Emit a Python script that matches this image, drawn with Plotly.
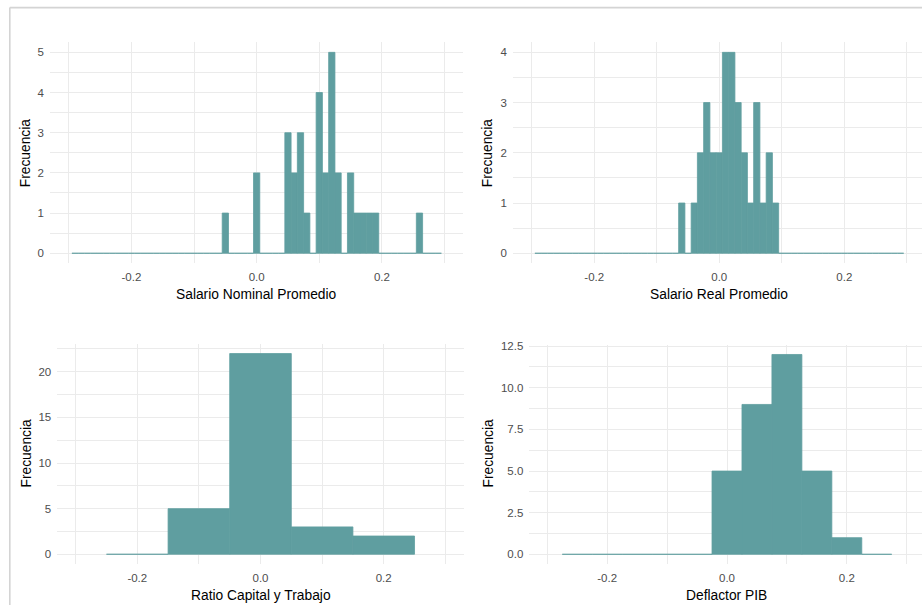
import plotly.graph_objects as go

# ---------------- data (bin counts) ----------------
# Salario Nominal Promedio: bins of width 0.01 centred from -0.29 to 0.29
nominal_start = -0.29
nominal_width = 0.01
nominal_counts = [
    0, 0, 0, 0, 0, 0, 0, 0, 0, 0,
    0, 0, 0, 0, 0, 0, 0, 0, 0, 0,
    0, 0, 0, 0, 1, 0, 0, 0, 0, 2,
    0, 0, 0, 0, 3, 2, 3, 1, 0, 4,
    2, 5, 2, 0, 2, 1, 1, 1, 1, 0,
    0, 0, 0, 0, 0, 1, 0, 0, 0,
]

# Salario Real Promedio: bins of width 0.01 centred from -0.29 to 0.29
real_start = -0.29
real_width = 0.01
real_counts = [
    0, 0, 0, 0, 0, 0, 0, 0, 0, 0,
    0, 0, 0, 0, 0, 0, 0, 0, 0, 0,
    0, 0, 0, 1, 0, 1, 2, 3, 2, 2,
    4, 4, 3, 2, 1, 3, 1, 2, 1, 0,
    0, 0, 0, 0, 0, 0, 0, 0, 0, 0,
    0, 0, 0, 0, 0, 0, 0, 0, 0,
]

# Ratio Capital y Trabajo: bins of width 0.1
ratio_centers = [-0.2, -0.1, 0.0, 0.1, 0.2]
ratio_width = 0.1
ratio_counts = [0, 5, 22, 3, 2]

# Deflactor PIB: bins of width 0.05
deflactor_centers = [-0.25, -0.20, -0.15, -0.10, -0.05, 0.0, 0.05, 0.10, 0.15, 0.20, 0.25]
deflactor_width = 0.05
deflactor_counts = [0, 0, 0, 0, 0, 5, 9, 12, 5, 1, 0]

x_titles = ["Salario Nominal Promedio", "Salario Real Promedio",
            "Ratio Capital y Trabajo", "Deflactor PIB"]
y_title = "Frecuencia"

x_tick_vals = [-0.2, 0.0, 0.2]
x_tick_text = ["-0.2", "0.0", "0.2"]
x_minor_vals = [-0.3, -0.1, 0.1, 0.3]

y1_tick_vals = [0, 1, 2, 3, 4, 5]
y1_tick_text = ["0", "1", "2", "3", "4", "5"]
y2_tick_vals = [0, 1, 2, 3, 4]
y2_tick_text = ["0", "1", "2", "3", "4"]
y3_tick_vals = [0, 5, 10, 15, 20]
y3_tick_text = ["0", "5", "10", "15", "20"]
y4_tick_vals = [0, 2.5, 5.0, 7.5, 10.0, 12.5]
y4_tick_text = ["0.0", "2.5", "5.0", "7.5", "10.0", "12.5"]

nominal_centers = [round(nominal_start + i * nominal_width, 4) for i in range(len(nominal_counts))]
real_centers = [round(real_start + i * real_width, 4) for i in range(len(real_counts))]

# ---------------- styling / layout ----------------
W, H = 922, 605
FILL = "#5F9EA0"
EDGE = "#5F9EA0"
GRID = "#ebebeb"
FONT = "Liberation Sans, Arial, sans-serif"
TICK_COLOR = "#4d4d4d"

def px_x(p):
    return p / W

def px_y(p):
    return 1 - p / H

# panel pixel boxes: (left, right, top, bottom)
panels = [
    (50.0, 463.3, 42.3, 263.3),
    (513.0, 922.0, 42.3, 263.3),
    (57.2, 463.8, 343.5, 564.3),
    (529.3, 922.0, 344.5, 564.3),
]
x_ranges = [[-0.33, 0.33], [-0.33, 0.3243], [-0.33, 0.33], [-0.33, 0.3255]]
y_ranges = [[-0.25, 5.25], [-0.2, 4.2], [-1.1, 23.1], [-0.6, 12.6]]
y_ticks = [(y1_tick_vals, y1_tick_text), (y2_tick_vals, y2_tick_text),
           (y3_tick_vals, y3_tick_text), (y4_tick_vals, y4_tick_text)]
y_minor = [0.5, 0.5, 2.5, 1.25]

series = [
    (nominal_centers, nominal_counts, nominal_width),
    (real_centers, real_counts, real_width),
    (ratio_centers, ratio_counts, ratio_width),
    (deflactor_centers, deflactor_counts, deflactor_width),
]

fig = go.Figure()
layout = dict(
    width=W, height=H,
    margin=dict(l=0, r=0, t=0, b=0),
    paper_bgcolor="white", plot_bgcolor="white",
    showlegend=False,
    font=dict(family=FONT, size=11.5, color=TICK_COLOR),
)

for i, ((xs, ys, w), (l, r, t, b)) in enumerate(zip(series, panels)):
    n = "" if i == 0 else str(i + 1)
    fig.add_trace(go.Bar(
        x=xs, y=ys, width=w,
        marker=dict(color=FILL, line=dict(color=EDGE, width=0.8)),
        xaxis="x" + n, yaxis="y" + n,
        hoverinfo="x+y",
    ))
    layout["xaxis" + n] = dict(
        domain=[px_x(l), px_x(r)], range=x_ranges[i], anchor="y" + n,
        tickmode="array", tickvals=x_tick_vals, ticktext=x_tick_text,
        showgrid=True, gridcolor=GRID, gridwidth=1.1,
        minor=dict(tickmode="array", tickvals=x_minor_vals, showgrid=True,
                   gridcolor=GRID, gridwidth=0.6),
        zeroline=False, showline=False, ticks="", automargin=False,
        ticklabelstandoff=5,
        tickfont=dict(size=11.5, color=TICK_COLOR, family=FONT),
        fixedrange=True,
    )
    yv, yt = y_ticks[i]
    layout["yaxis" + n] = dict(
        domain=[px_y(b), px_y(t)], range=y_ranges[i], anchor="x" + n,
        tickmode="array", tickvals=yv, ticktext=yt,
        showgrid=True, gridcolor=GRID, gridwidth=1.1,
        minor=dict(dtick=y_minor[i], tick0=0,
                   showgrid=True, gridcolor=GRID, gridwidth=0.6),
        zeroline=False, showline=False, ticks="", automargin=False,
        ticklabelstandoff=5,
        tickfont=dict(size=11.5, color=TICK_COLOR, family=FONT),
        fixedrange=True,
    )

# axis titles as annotations
ann = []
x_title_pos = [(256.6, 294), (719.0, 294), (260.5, 595), (726.5, 595)]
y_title_pos = [(25.5, 152.8), (487.5, 152.8), (25.5, 453.0), (487.5, 453.0)]
for (xt, (ax, ay), (bx, by)) in zip(x_titles, x_title_pos, y_title_pos):
    ann.append(dict(text=xt, x=px_x(ax), y=px_y(ay), xref="paper", yref="paper",
                    xanchor="center", yanchor="middle", showarrow=False,
                    font=dict(size=13.8, color="black", family=FONT)))
    ann.append(dict(text=y_title, x=px_x(bx), y=px_y(by), xref="paper", yref="paper",
                    xanchor="center", yanchor="middle", showarrow=False, textangle=-90,
                    font=dict(size=13.8, color="black", family=FONT)))
layout["annotations"] = ann

# outer frame of the viewer
layout["shapes"] = [
    dict(type="line", xref="paper", yref="paper", x0=px_x(9.8), x1=1.02,
         y0=px_y(7.6), y1=px_y(7.6), line=dict(color="#d4d4d4", width=1.6), layer="above"),
    dict(type="line", xref="paper", yref="paper", x0=px_x(9.8), x1=px_x(9.8),
         y0=px_y(7.6), y1=-0.02, line=dict(color="#d4d4d4", width=1.6), layer="above"),
]

fig.update_layout(**layout)
fig.write_html(
    "out.html",
    config={"displayModeBar": False},
    post_script="document.body.style.margin='0';document.body.style.padding='0';"
                "document.body.style.overflow='hidden';",
)
